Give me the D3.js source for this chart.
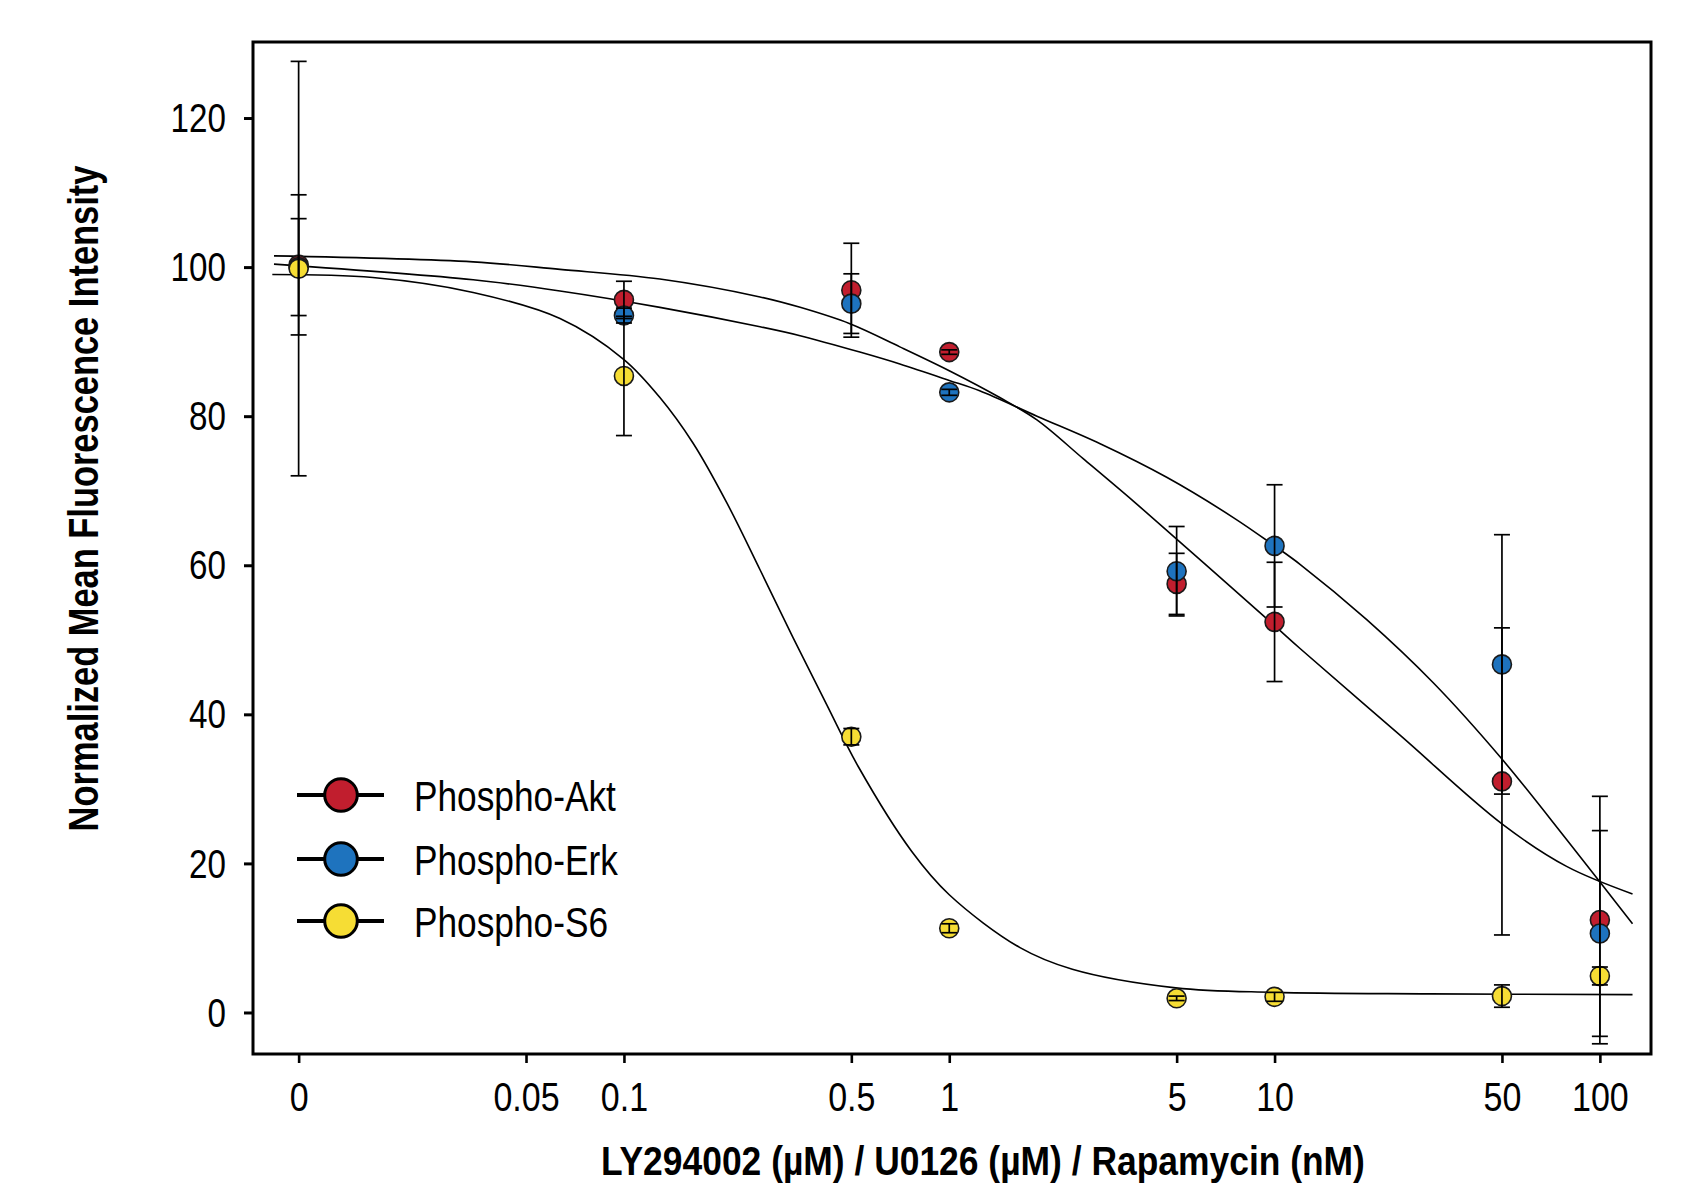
<!DOCTYPE html>
<html>
<head>
<meta charset="utf-8">
<script src="https://cdn.jsdelivr.net/npm/d3@7"></script>
<style>
  html, body { margin: 0; padding: 0; background: #ffffff; }
  svg { display: block; }
  text { font-family: "Liberation Sans", Arial, Helvetica, sans-serif; fill: #000; }
</style>
</head>
<body>
<svg id="chart" width="1681" height="1184"></svg>
<script>
// ---------------- data ----------------
const tickLabels = ["0", "0.05", "0.1", "0.5", "1", "5", "10", "50", "100"];
const tickConc   = [0.01, 0.05, 0.1, 0.5, 1, 5, 10, 50, 100];   // "0" is drawn at 0.01
const yTicks     = [0, 20, 40, 60, 80, 100, 120];

const doseConc = [0.01, 0.1, 0.5, 1, 5, 10, 50, 100];           // first dose = 0

const aktValues = [100.3, 95.6, 96.9, 88.6, 57.5, 52.4, 31.0, 12.4];
const aktErrors = [9.4, 2.5, 6.3, 0.3, 4.1, 8.0, 20.6, 16.6];
const erkValues = [100.0, 93.5, 95.1, 83.2, 59.2, 62.6, 46.7, 10.6];
const erkErrors = [6.5, 1.0, 4.0, 0.4, 6.0, 8.2, 17.4, 13.8];
const s6Values  = [99.8, 85.4, 37.0, 11.3, 1.9, 2.1, 2.2, 4.9];
const s6Errors  = [27.8, 8.0, 1.1, 0.6, 0.3, 0.6, 1.5, 1.2];

// fitted curves as [concentration, value]
const aktFit = [[0.0084,101.5],[0.0344,100.7],[0.0636,99.7],[0.129,98.4],[0.262,96.0],[0.348,94.6],
  [0.495,92.4],[0.705,89.3],[1.0,86.1],[1.43,82.5],[1.86,79.5],[2.58,74.3],[3.68,68.6],[4.97,63.6],
  [7.47,56.8],[10,51.9],[12,48.8],[24.3,37.2],[50,25.3],[79,19.6],[126,15.9]];
const erkFit = [[0.0084,100.4],[0.0344,98.3],[0.0636,96.8],[0.129,94.6],[0.262,92.0],[0.348,90.8],
  [0.531,88.6],[0.705,87.0],[1.0,84.8],[1.24,83.4],[1.86,80.0],[2.91,76.3],[4.66,71.8],[7.47,66.4],
  [10,62.6],[12,60.1],[19.2,52.7],[30.8,44.2],[50,34.0],[79,23.2],[126,11.9]];
const s6Fit = [[0.0083,99.0],[0.0169,98.6],[0.0344,96.6],[0.0636,93.1],[0.1,87.6],[0.129,82.5],
  [0.163,76.4],[0.207,68.4],[0.262,59.4],[0.331,50.3],[0.42,41.3],[0.525,33.0],[0.767,21.6],
  [1.0,15.8],[1.65,8.7],[2.39,5.8],[4.97,3.3],[10,2.7],[30,2.5],[126,2.4]];

const seriesNames  = ["Phospho-Akt", "Phospho-Erk", "Phospho-S6"];
const seriesColors = ["#c11e2e", "#1e73be", "#f6dd34"];

// ---------------- layout ----------------
const svg = d3.select("#chart");
const L = 253, R = 1651, T = 42, B = 1054;

const x = d3.scaleLog().domain([0.00724, 143.6]).range([L, R]);
const y = d3.scaleLinear().domain([-5.57, 130.2]).range([B, T]);

const series = [
  { name: seriesNames[0], color: seriesColors[0], values: aktValues, errors: aktErrors, fit: aktFit },
  { name: seriesNames[1], color: seriesColors[1], values: erkValues, errors: erkErrors, fit: erkFit },
  { name: seriesNames[2], color: seriesColors[2], values: s6Values,  errors: s6Errors,  fit: s6Fit }
];

// axes (ticks + labels)
const yAxis = d3.axisLeft(y).tickValues(yTicks).tickSize(9).tickSizeOuter(0);
const gy = svg.append("g").attr("transform", `translate(${L},0)`).call(yAxis);
gy.select(".domain").remove();
gy.selectAll(".tick line").attr("stroke", "#000").attr("stroke-width", 3);
gy.selectAll(".tick text")
  .attr("font-family", "'Liberation Sans', Arial, sans-serif")
  .attr("font-size", 40)
  .attr("fill", "#000")
  .attr("x", -27 / 0.83)
  .attr("dy", "0.34em")
  .attr("transform", "scale(0.83,1)");

const xAxis = d3.axisBottom(x).tickValues(tickConc).tickFormat((d, i) => tickLabels[i]).tickSize(9).tickSizeOuter(0);
const gx = svg.append("g").attr("transform", `translate(0,${B})`).call(xAxis);
gx.select(".domain").remove();
gx.selectAll(".tick line").attr("stroke", "#000").attr("stroke-width", 2.6);
gx.selectAll(".tick text")
  .attr("font-family", "'Liberation Sans', Arial, sans-serif")
  .attr("font-size", 40)
  .attr("fill", "#000")
  .attr("y", 57)
  .attr("dy", 0)
  .attr("transform", "scale(0.85,1)");

// fitted curves
const line = d3.line().x(d => x(d[0])).y(d => y(d[1])).curve(d3.curveCatmullRom.alpha(0.5));
svg.append("g").selectAll("path").data(series).join("path")
  .attr("d", s => line(s.fit))
  .attr("fill", "none")
  .attr("stroke", "#000")
  .attr("stroke-width", 1.6);

// markers
series.forEach(s => {
  svg.append("g").selectAll("circle").data(s.values).join("circle")
    .attr("cx", (d, i) => x(doseConc[i]))
    .attr("cy", d => y(d))
    .attr("r", 9.5)
    .attr("fill", s.color)
    .attr("stroke", "#1a1a1a")
    .attr("stroke-width", 1.6);
});

// error bars (drawn over markers)
const cap = 8;
series.forEach(s => {
  const g = svg.append("g").attr("stroke", "#000").attr("stroke-width", 1.7).attr("fill", "none");
  s.values.forEach((v, i) => {
    const cx = x(doseConc[i]);
    const y1 = y(v + s.errors[i]), y0 = y(v - s.errors[i]);
    g.append("line").attr("x1", cx).attr("x2", cx).attr("y1", y1).attr("y2", y0);
    g.append("line").attr("x1", cx - cap).attr("x2", cx + cap).attr("y1", y1).attr("y2", y1);
    g.append("line").attr("x1", cx - cap).attr("x2", cx + cap).attr("y1", y0).attr("y2", y0);
  });
});

// frame
svg.append("rect")
  .attr("x", L).attr("y", T).attr("width", R - L).attr("height", B - T)
  .attr("fill", "none").attr("stroke", "#000").attr("stroke-width", 3);

// legend
const legendY = [795, 859, 921];
const lg = svg.append("g");
series.forEach((s, i) => {
  const ly = legendY[i];
  lg.append("line").attr("x1", 297).attr("x2", 384).attr("y1", ly).attr("y2", ly)
    .attr("stroke", "#000").attr("stroke-width", 4);
  lg.append("circle").attr("cx", 341).attr("cy", ly).attr("r", 16.3)
    .attr("fill", s.color).attr("stroke", "#000").attr("stroke-width", 3);
  lg.append("text")
    .attr("transform", `translate(414,${ly + 16}) scale(0.82,1)`)
    .attr("font-size", 43)
    .text(s.name);
});

// axis titles
svg.append("text")
  .attr("transform", "translate(983,1175) scale(0.886,1)")
  .attr("text-anchor", "middle")
  .attr("font-size", 40)
  .attr("font-weight", "bold")
  .text("LY294002 (µM) / U0126 (µM) / Rapamycin (nM)");

svg.append("text")
  .attr("transform", "translate(97.5,498.5) rotate(-90) scale(0.82,1)")
  .attr("text-anchor", "middle")
  .attr("font-size", 42)
  .attr("font-weight", "bold")
  .text("Normalized Mean Fluorescence Intensity");
</script>
</body>
</html>
